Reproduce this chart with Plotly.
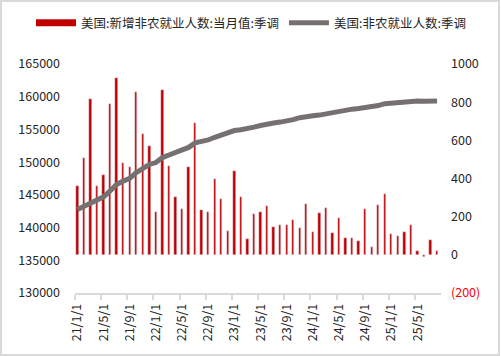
import plotly.graph_objects as go

months = [f"{y}/{m}/1" for y in range(21, 26) for m in range(1, 13)][:56]

new_jobs = [
    361, 507, 815, 361, 418, 789, 925, 481, 460, 852, 632, 570,
    225, 862, 465, 303, 240, 460, 690, 235, 225, 397, 293, 125,
    439, 303, 84, 214, 225, 256, 146, 157, 157, 183, 141, 267,
    120, 220, 246, 115, 193, 89, 87, 73, 240, 42, 261, 319,
    110, 99, 120, 157, 21, -9, 78, 22,
]

total_jobs = [
    142750, 143250, 143780, 144200, 144700, 145600, 146600, 147100, 147530, 148400, 149100, 149650,
    149940, 150700, 151100, 151450, 151740, 152250, 152950, 153150, 153390, 153800, 154160, 154400,
    154830, 154950, 155090, 155350, 155600, 155860, 155980, 156120, 156260, 156500, 156790, 157000,
    157100, 157190, 157400, 157550, 157800, 158020, 158100, 158200, 158330, 158400, 158650, 158940,
    159050, 159150, 159250, 159300, 159330, 159320, 159340, 159345,
]

tick_labels = ["21/1/1", "21/5/1", "21/9/1", "22/1/1", "22/5/1", "22/9/1", "23/1/1",
               "23/5/1", "23/9/1", "24/1/1", "24/5/1", "24/9/1", "25/1/1", "25/5/1"]

left_ticks = [130000, 135000, 140000, 145000, 150000, 155000, 160000, 165000]
right_ticks = [-200, 0, 200, 400, 600, 800, 1000]
right_text = ['<span style="color:#FF0000">(200)</span>', "0", "200", "400", "600", "800", "1000"]

name_bar = "美国:新增非农就业人数:当月值:季调"
name_line = "美国:非农就业人数:季调"

RED = "#C00000"
GRAY = "#767171"
FONT = "Noto Sans CJK SC"
TXT = "#262626"

idx = list(range(len(months)))
tickpos = [idx[months.index(t)] for t in tick_labels]

fig = go.Figure()
fig.add_trace(go.Bar(x=idx, y=new_jobs, marker_color=RED, width=0.36,
                     yaxis="y", showlegend=False, name=name_bar))
fig.add_trace(go.Scatter(x=idx, y=total_jobs, mode="lines",
                         line=dict(color=GRAY, width=5), yaxis="y2",
                         showlegend=False, name=name_line))
# legend-only entries
fig.add_trace(go.Scatter(x=[None], y=[None], mode="lines", line=dict(color=RED, width=7),
                         name=name_bar, yaxis="y2"))
fig.add_trace(go.Scatter(x=[None], y=[None], mode="lines", line=dict(color=GRAY, width=5),
                         name=name_line, yaxis="y2"))

W = 501 - 75 - 60
H = 356 - 64 - 63

fig.update_layout(
    width=501, height=356,
    margin=dict(l=75, r=60, t=64, b=63, autoexpand=False),
    paper_bgcolor="white", plot_bgcolor="white",
    font=dict(family=FONT, size=12, color=TXT),
    bargap=0,
    showlegend=True,
    legend=dict(orientation="h", x=(31 - 75) / W, xanchor="left",
                y=(356 - 23 - 63) / H, yanchor="middle",
                font=dict(size=12.5, color=TXT), itemwidth=40,
                bgcolor="rgba(0,0,0,0)", tracegroupgap=0),
    xaxis=dict(range=[-0.37, 55.6], tickmode="array", tickvals=tickpos, ticktext=tick_labels,
               tickangle=-90, ticks="", showgrid=False, zeroline=False, automargin=False,
               showline=True, linecolor="#D9D9D9", linewidth=1.5,
               tickfont=dict(size=12.5, color=TXT), ticklabelstandoff=4,
               minor=dict(tickmode="linear", tick0=-0.37, dtick=4, ticks="outside",
                          ticklen=5, tickcolor="#D9D9D9", tickwidth=1.5, showgrid=False)),
    yaxis=dict(side="right", range=[-200, 1000], tickmode="array", automargin=False,
               tickvals=right_ticks, ticktext=right_text, showgrid=False,
               zeroline=False, showline=False, ticks="",
               tickfont=dict(size=12.5, color=TXT), ticklabelstandoff=9),
    yaxis2=dict(side="left", overlaying="y", range=[130000, 165000], tickmode="array",
                tickvals=left_ticks, ticktext=[str(v) for v in left_ticks], automargin=False,
                showgrid=False, zeroline=False, showline=False, ticks="",
                tickfont=dict(size=12.5, color=TXT), ticklabelstandoff=14),
    shapes=[dict(type="rect", xref="paper", yref="paper",
                 x0=(1 - 75) / W, x1=(499 - 75) / W,
                 y0=(1 - 63) / H, y1=(355 - 63) / H,
                 line=dict(color="#D9D9D9", width=2), fillcolor="rgba(0,0,0,0)", layer="below")],
)

fig.write_html("out.html", config={"displayModeBar": False},
               post_script="document.body.style.margin='0';")
